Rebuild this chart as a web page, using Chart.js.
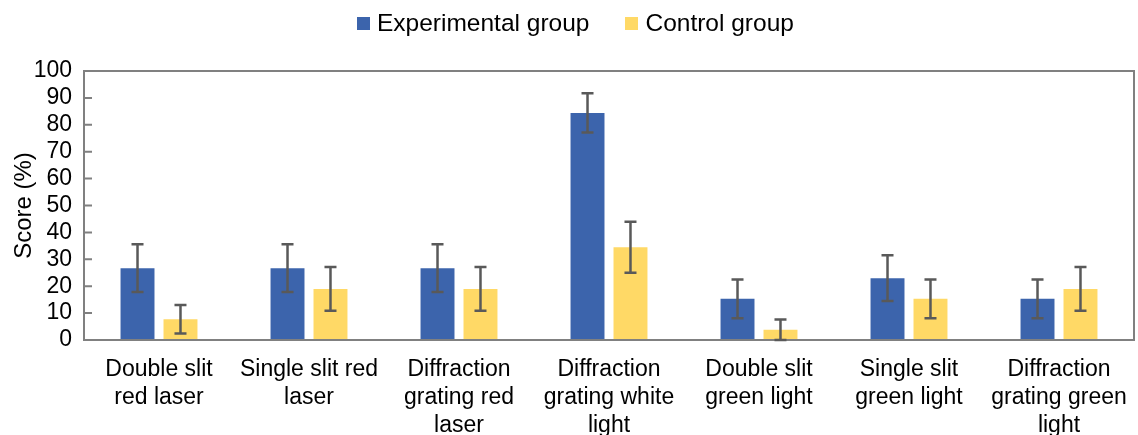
<!DOCTYPE html>
<html>
<head>
<meta charset="utf-8">
<script src="https://cdn.jsdelivr.net/npm/chart.js@4.4.1/dist/chart.umd.min.js"></script>
<style>
  body { margin: 0; background: #fff; }
  #wrap { position: relative; width: 1138px; height: 435px; overflow: hidden; }
  #legend {
    position: absolute; left: 357px; top: 8px; height: 30px;
    display: flex; align-items: center;
    font-family: "Liberation Sans", Arial, sans-serif; font-size: 24.5px; color: #000;
  }
  .item { display: flex; align-items: center; margin-right: 36px; white-space: nowrap; }
  .box { width: 13px; height: 13px; margin-right: 7px; }
</style>
</head>
<body>
<div id="wrap">
  <canvas id="chart" width="1138" height="435"></canvas>
  <div id="legend"></div>
</div>
<script>
// categories (multi-line tick labels)
const categories = [
  ['Double slit', 'red laser'],
  ['Single slit red', 'laser'],
  ['Diffraction', 'grating red', 'laser'],
  ['Diffraction', 'grating white', 'light'],
  ['Double slit', 'green light'],
  ['Single slit', 'green light'],
  ['Diffraction', 'grating green', 'light']
];

// scores (%) and error bar half-lengths
const experimental = [26.7, 26.7, 26.7, 84.4, 15.3, 23.0, 15.3];
const experimentalErr = [8.9, 8.9, 8.9, 7.3, 7.2, 8.5, 7.2];
const control = [7.7, 19.0, 19.0, 34.5, 3.8, 15.3, 19.0];
const controlErr = [5.3, 8.1, 8.1, 9.5, 3.8, 7.2, 8.1];

// y axis: 0..100 every 10
const yMin = 0;
const yMax = 100;
const yStep = 10;

const FONT = '"Liberation Sans", Arial, sans-serif';
const AXIS_GREY = '#808080';

// frame around plot area + inward tick marks on the y axis
const framePlugin = {
  id: 'frame',
  afterDatasetsDraw(chart) {
    const { ctx, chartArea: a, scales } = chart;
    ctx.save();
    ctx.strokeStyle = AXIS_GREY;
    ctx.lineWidth = 2;
    ctx.strokeRect(a.left, a.top, a.right - a.left, a.bottom - a.top);
    ctx.beginPath();
    scales.y.ticks.forEach(t => {
      const y = scales.y.getPixelForValue(t.value);
      ctx.moveTo(a.left, y);
      ctx.lineTo(a.left + 8, y);
    });
    ctx.stroke();
    ctx.restore();
  }
};

// error bars drawn from the bar elements and the y scale
const errorBarPlugin = {
  id: 'errorBars',
  afterDatasetsDraw(chart) {
    const { ctx, scales } = chart;
    ctx.save();
    ctx.strokeStyle = '#595959';
    ctx.lineWidth = 2.5;
    chart.data.datasets.forEach((ds, i) => {
      const meta = chart.getDatasetMeta(i);
      meta.data.forEach((bar, j) => {
        const v = ds.data[j];
        const e = ds.errors[j];
        const yTop = scales.y.getPixelForValue(v + e);
        const yBot = scales.y.getPixelForValue(Math.max(0, v - e));
        ctx.beginPath();
        ctx.moveTo(bar.x, yTop);
        ctx.lineTo(bar.x, yBot);
        ctx.moveTo(bar.x - 6, yTop);
        ctx.lineTo(bar.x + 6, yTop);
        ctx.moveTo(bar.x - 6, yBot);
        ctx.lineTo(bar.x + 6, yBot);
        ctx.stroke();
      });
    });
    ctx.restore();
  }
};

const chart = new Chart(document.getElementById('chart'), {
  type: 'bar',
  data: {
    labels: categories,
    datasets: [
      {
        label: 'Experimental group',
        data: experimental,
        errors: experimentalErr,
        backgroundColor: '#3C64AC'
      },
      {
        label: 'Control group',
        data: control,
        errors: controlErr,
        backgroundColor: '#FFD966'
      }
    ]
  },
  options: {
    responsive: false,
    animation: false,
    devicePixelRatio: 1,
    categoryPercentage: 0.573,
    barPercentage: 0.79,
    layout: { padding: { top: 71, right: 4, left: 0, bottom: 0 } },
    plugins: {
      legend: { display: false },
      tooltip: { enabled: false }
    },
    scales: {
      x: {
        grid: { display: false },
        border: { display: false },
        ticks: {
          color: '#000',
          padding: 8,
          maxRotation: 0,
          autoSkip: false,
          font: { family: FONT, size: 23, lineHeight: 1.22 }
        },
        afterFit: s => { s.height = 95; }
      },
      y: {
        min: yMin,
        max: yMax,
        grid: { display: false },
        border: { display: false },
        ticks: {
          stepSize: yStep,
          autoSkip: false,
          color: '#000',
          padding: 4,
          font: { family: FONT, size: 23 }
        },
        title: {
          display: true,
          text: 'Score (%)',
          color: '#000',
          padding: { top: 10, bottom: 0 },
          font: { family: FONT, size: 24 }
        },
        afterFit: s => { s.width = 84; }
      }
    }
  },
  plugins: [framePlugin, errorBarPlugin]
});

// legend built from the datasets
const legendEl = document.getElementById('legend');
chart.data.datasets.forEach(ds => {
  const item = document.createElement('div');
  item.className = 'item';
  const box = document.createElement('span');
  box.className = 'box';
  box.style.background = ds.backgroundColor;
  const txt = document.createElement('span');
  txt.textContent = ds.label;
  item.appendChild(box);
  item.appendChild(txt);
  legendEl.appendChild(item);
});
</script>
</body>
</html>
